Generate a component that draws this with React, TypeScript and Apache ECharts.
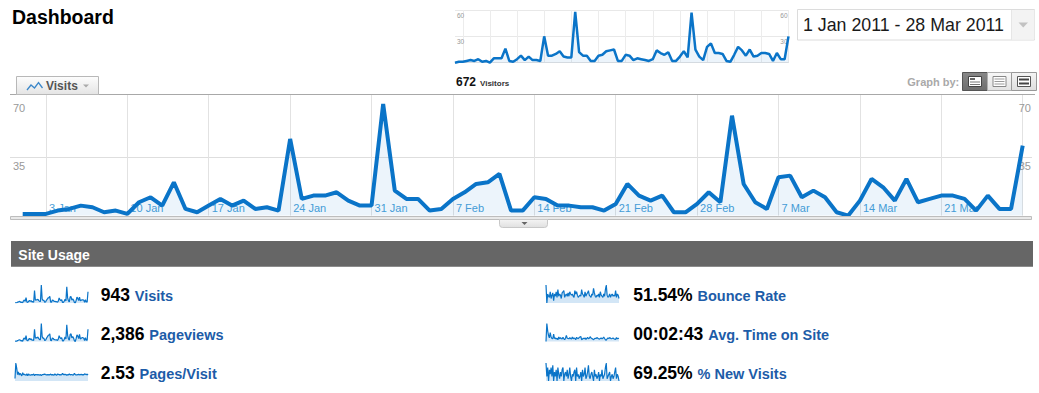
import React, { useEffect, useRef } from "react";
import * as echarts from "echarts";

const FONT = "Arial, 'Liberation Sans', Helvetica, sans-serif";

// ---- categories ----
const monthNames = ["Jan", "Feb", "Mar"];
const monthDays = [31, 28, 28];
const days: string[] = [];
monthNames.forEach((m, k) => {
  for (let d = 1; d <= monthDays[k]; d++) days.push(`${d} ${m}`);
});

// ---- data ----
const visits = [
  1, 1, 1, 3, 4, 6, 5, 2, 3, 1,
  8, 11, 6, 20, 4, 2, 6, 10, 6, 9,
  4, 5, 3, 46, 10, 12, 12, 14, 9, 6,
  6, 67, 15, 10, 10, 3, 4, 10, 14, 19,
  20, 25, 3, 3, 11, 10, 6, 6, 5, 5,
  3, 7, 19, 12, 9, 12, 2, 2, 7, 14,
  8, 60, 19, 8, 4, 23, 24, 11, 15, 11,
  2, 0, 9, 22, 17, 9, 22, 8, 10, 12,
  12, 10, 3, 12, 4, 4, 42,
];
const visitors = [
  0, 1, 1, 2, 3, 2, 4, 1, 2, 0,
  5, 5, 5, 16, 2, 1, 4, 8, 3, 7,
  3, 3, 2, 30, 8, 8, 10, 13, 7, 6,
  6, 58, 12, 8, 8, 2, 2, 8, 9, 13,
  14, 15, 2, 2, 9, 8, 3, 5, 4, 3,
  2, 4, 14, 11, 9, 12, 2, 2, 7, 13,
  6, 57, 15, 7, 3, 18, 22, 11, 11, 10,
  2, 1, 9, 18, 14, 8, 15, 7, 8, 11,
  11, 10, 2, 11, 4, 4, 30,
];
const pageviews = [
  2, 3, 2, 8, 10, 14, 12, 5, 7, 2,
  20, 28, 15, 45, 9, 5, 16, 24, 14, 22,
  10, 12, 8, 95, 25, 30, 28, 35, 22, 14,
  15, 140, 38, 25, 26, 8, 10, 24, 35, 46,
  50, 60, 8, 7, 28, 24, 15, 14, 12, 13,
  8, 18, 45, 30, 22, 30, 5, 5, 18, 35,
  20, 130, 48, 20, 10, 55, 60, 28, 38, 27,
  5, 0, 22, 52, 42, 22, 55, 20, 25, 30,
  30, 25, 8, 30, 10, 10, 95,
];
const pagesPerVisit = [
  1, 7, 5, 2.5, 3.5, 2.3, 3, 2.5, 2, 3.2,
  2.5, 2.6, 2.4, 2.2, 2.8, 2, 2.7, 2.4, 2.3, 2.4,
  2.5, 2.4, 2.7, 2.1, 2.5, 2.5, 2.3, 2.5, 2.4, 2.3,
  2.5, 2.1, 2.5, 2.5, 2.6, 2.7, 2.5, 2.4, 2.5, 2.4,
  2.5, 2.4, 2.7, 2.3, 2.5, 2.4, 2.3, 2.8, 2.4, 2.2,
  2.7, 2.6, 2.4, 2.5, 2.4, 2.5, 3, 2.5, 2.6, 2.5,
  2.6, 2.2, 2.5, 2.4, 2.8, 2.4, 2.5, 2.5, 2.3, 2.4,
  3, 2.5, 2.4, 2.4, 2.5, 2.6, 2.4, 2.5, 2.6, 2.4,
  2.5, 2.4, 2.8, 2.6, 2.4, 2.7, 2.3,
];
const bounceRate = [
  100, 20, 60, 50, 45, 70, 40, 55, 65, 30,
  60, 50, 70, 45, 80, 50, 60, 55, 40, 65,
  70, 75, 45, 55, 60, 50, 65, 50, 70, 60,
  55, 60, 50, 45, 75, 60, 70, 55, 45, 50,
  55, 50, 80, 60, 55, 45, 70, 50, 60, 65,
  75, 55, 50, 45, 60, 55, 85, 65, 50, 45,
  55, 50, 60, 45, 70, 55, 50, 45, 60, 50,
  80, 100, 55, 45, 50, 60, 45, 55, 60, 50,
  55, 50, 75, 45, 60, 55, 40,
];
const avgTime = [
  0, 600, 350, 200, 120, 300, 150, 100, 90, 250,
  100, 120, 80, 110, 60, 150, 90, 130, 100, 80,
  140, 90, 60, 120, 200, 110, 100, 90, 130, 100,
  80, 150, 90, 120, 100, 60, 140, 110, 95, 130,
  150, 170, 60, 80, 110, 90, 120, 70, 100, 140,
  90, 110, 160, 120, 100, 80, 60, 90, 110, 100,
  130, 110, 90, 80, 100, 120, 90, 110, 150, 100,
  60, 40, 90, 120, 100, 130, 110, 90, 100, 120,
  90, 80, 70, 130, 90, 110, 100,
];
const newVisits = [
  100, 70, 90, 60, 85, 75, 90, 70, 95, 60,
  80, 70, 85, 60, 90, 75, 65, 80, 70, 85,
  90, 60, 75, 80, 70, 85, 65, 75, 90, 70,
  60, 75, 70, 80, 85, 60, 90, 70, 75, 65,
  70, 80, 60, 85, 70, 75, 90, 65, 70, 80,
  95, 70, 65, 75, 80, 70, 60, 85, 70, 75,
  65, 70, 80, 60, 75, 70, 85, 65, 70, 75,
  90, 100, 65, 70, 75, 80, 60, 70, 75, 65,
  70, 80, 90, 65, 75, 70, 60,
];

const metricValues = ["943", "2,386", "2.53", "51.54%", "00:02:43", "69.25%"];
const metricLabels = ["Visits", "Pageviews", "Pages/Visit", "Bounce Rate", "Avg. Time on Site", "% New Visits"];
const metricSeries = [visits, pageviews, pagesPerVisit, bounceRate, avgTime, newVisits];
const metricFromMin = [false, false, false, true, false, true];

const mainTicks = { min: 0, max: 70, interval: 35 };
const miniTicks = { min: 0, max: 60, interval: 30 };
const dateRange = "1 Jan 2011 - 28 Mar 2011";
const visitorsTotal = "672";

const isMonday = (i: number) => i % 7 === 2;

export default function App() {
  const ref = useRef<HTMLDivElement>(null);
  useEffect(() => {
    if (!ref.current) return;
    const chart = echarts.init(ref.current, undefined, { renderer: "svg" });

    const mainTop = 99;
    const mainH = 116.6;
    const pxPerUnit = mainH / mainTicks.max;
    const topBorder = 95;
    const extMax = mainTicks.max + (mainTop - topBorder) / pxPerUnit;

    const sparkRows = [285, 323.5, 363];
    const sparkCols = [15, 546];
    const textCols = [100.7, 633.3];
    const textRows = [294.9, 334.2, 373.2];

    const grids: any[] = [
      { left: 10, width: 1022, top: mainTop, height: mainH },
      { left: 22.7, width: 1000, top: topBorder, height: mainTop + mainH - topBorder },
      { left: 455, width: 333.5, top: 10, height: 52.7 },
    ];
    const xAxes: any[] = [
      { gridIndex: 0, type: "value", show: false, min: 0, max: 1 },
      {
        gridIndex: 1,
        type: "category",
        data: days,
        boundaryGap: false,
        axisLine: { show: false },
        axisTick: { show: false },
        splitLine: { show: true, interval: (i: number) => isMonday(i), lineStyle: { color: "#e2e2e2", width: 1 } },
        axisLabel: {
          show: true,
          inside: true,
          interval: (i: number) => isMonday(i) && i < days.length - 1,
          align: "left",
          margin: 2,
          padding: [0, 0, 0, 3],
          color: "#4a9fd8",
          fontSize: 11,
          fontFamily: FONT,
        },
      },
      {
        gridIndex: 2,
        type: "category",
        data: days,
        boundaryGap: false,
        axisLine: { show: true, lineStyle: { color: "#e2e2e2" } },
        axisTick: { show: false },
        axisLabel: { show: false },
        splitLine: { show: true, interval: (i: number) => isMonday(i), lineStyle: { color: "#ececec", width: 1 } },
      },
    ];
    const yLabel = (margin: number, size: number, pad: number) => ({
      inside: true,
      margin,
      verticalAlign: "top",
      padding: [pad, 0, 0, 0],
      color: "#999",
      fontSize: size,
      fontFamily: FONT,
      formatter: (v: number) => (v === 0 ? "" : String(v)),
    });
    const yAxes: any[] = [
      {
        gridIndex: 0, type: "value", position: "left", ...mainTicks,
        axisLine: { show: false }, axisTick: { show: false },
        splitLine: { show: true, lineStyle: { color: ["transparent", "#dedede", "transparent"], width: 1 } },
        axisLabel: yLabel(3, 11, 3),
      },
      {
        gridIndex: 0, type: "value", position: "right", ...mainTicks,
        axisLine: { show: false }, axisTick: { show: false }, splitLine: { show: false },
        axisLabel: yLabel(1, 11, 3),
      },
      { gridIndex: 1, type: "value", show: false, min: 0, max: extMax, splitLine: { show: false } },
      {
        gridIndex: 2, type: "value", position: "left", ...miniTicks,
        axisLine: { show: false }, axisTick: { show: false },
        splitLine: { show: true, lineStyle: { color: ["transparent", "#e8e8e8", "#e8e8e8"], width: 1 } },
        axisLabel: yLabel(2, 6.5, 2),
      },
      {
        gridIndex: 2, type: "value", position: "right", ...miniTicks,
        axisLine: { show: false }, axisTick: { show: false }, splitLine: { show: false },
        axisLabel: yLabel(1, 6.5, 2),
      },
    ];
    const series: any[] = [
      {
        type: "line", xAxisIndex: 1, yAxisIndex: 2, data: visits, symbol: "none", silent: true, z: 3,
        lineStyle: { color: "#0a74c8", width: 4, join: "bevel" },
        areaStyle: { color: "rgba(10,116,200,0.11)" },
      },
      {
        type: "line", xAxisIndex: 2, yAxisIndex: 3, data: visitors, symbol: "none", silent: true, z: 3,
        lineStyle: { color: "#0a74c8", width: 2.5, join: "bevel" },
        areaStyle: { color: "rgba(10,116,200,0.11)" },
      },
    ];

    metricSeries.forEach((arr, k) => {
      const col = k < 3 ? 0 : 1;
      const row = k % 3;
      const gi = grids.length;
      grids.push({ left: sparkCols[col], width: 73, top: sparkRows[row], height: 18 });
      const xi = xAxes.length;
      xAxes.push({ gridIndex: gi, type: "category", data: days, boundaryGap: false, show: false });
      const yi = yAxes.length;
      yAxes.push({ gridIndex: gi, type: "value", show: false, min: metricFromMin[k] ? "dataMin" : 0, max: "dataMax", splitLine: { show: false } });
      series.push({
        type: "line", xAxisIndex: xi, yAxisIndex: yi, data: arr, symbol: "none", silent: true,
        lineStyle: { color: "#0a74c8", width: 1.2 },
        areaStyle: { color: "#d3e6f6", opacity: 1 },
      });
    });

    const grad = (a: string, b: string) =>
      new echarts.graphic.LinearGradient(0, 0, 0, 1, [
        { offset: 0, color: a },
        { offset: 1, color: b },
      ]);
    const txt = (x: number, y: number, text: string, font: string, fill: string, extra: any = {}) => ({
      type: "text", x, y, ...extra,
      style: { text, font, fill, textVerticalAlign: "middle", verticalAlign: "middle" },
    });

    const elements: any[] = [
      txt(12, 16.7, "Dashboard", `bold 19.5px ${FONT}`, "#000"),
      { type: "rect", shape: { x: 797.5, y: 9.5, width: 237, height: 30.5 }, style: { fill: "#fff", stroke: "#dcdcdc", lineWidth: 1 } },
      { type: "rect", shape: { x: 1012, y: 10, width: 22.5, height: 29.5 }, style: { fill: "#f3f3f3" } },
      { type: "line", shape: { x1: 1011.5, y1: 10, x2: 1011.5, y2: 40 }, style: { stroke: "#e6e6e6", lineWidth: 1 } },
      { type: "polygon", shape: { points: [[1018.5, 22.5], [1028, 22.5], [1023.25, 27.5]] }, style: { fill: "#c2c2c2" } },
      txt(803, 25, dateRange, `17.8px ${FONT}`, "#1a1a1a"),
      txt(456, 81.8, visitorsTotal, `bold 12px ${FONT}`, "#111"),
      txt(480, 83, "Visitors", `bold 8px ${FONT}`, "#333"),
      { type: "line", shape: { x1: 10, y1: 94.5, x2: 1035, y2: 94.5 }, style: { stroke: "#a8a8a8", lineWidth: 1 } },
      { type: "rect", shape: { x: 16.5, y: 76.5, width: 82, height: 18 }, style: { fill: grad("#fdfdfd", "#e4e4e4"), stroke: "#b8b8b8", lineWidth: 1 } },
      { type: "polyline", shape: { points: [[27, 90], [31, 85], [34.5, 88], [38.5, 82.5], [42.5, 88]] }, style: { stroke: "#3b87c9", lineWidth: 1.3, fill: "none" } },
      txt(46, 85.8, "Visits", `bold 12px ${FONT}`, "#555"),
      { type: "polygon", shape: { points: [[83, 84.5], [89, 84.5], [86, 87.5]] }, style: { fill: "#aaa" } },
      txt(907.3, 82, "Graph by:", `bold 11px ${FONT}`, "#a9a9a9"),
      { type: "rect", shape: { x: 962.5, y: 72.5, width: 25, height: 18 }, style: { fill: grad("#888", "#6e6e6e"), stroke: "#555", lineWidth: 1 } },
      { type: "rect", shape: { x: 987.5, y: 72.5, width: 24, height: 18 }, style: { fill: grad("#f8f8f8", "#e2e2e2"), stroke: "#b0b0b0", lineWidth: 1 } },
      { type: "rect", shape: { x: 1011.5, y: 72.5, width: 25, height: 18 }, style: { fill: grad("#f4f4f4", "#dedede"), stroke: "#999", lineWidth: 1 } },
      { type: "rect", shape: { x: 968.5, y: 76.5, width: 13, height: 10 }, style: { fill: "#fff", stroke: "#444", lineWidth: 1 } },
      { type: "line", shape: { x1: 970, y1: 79, x2: 975, y2: 79 }, style: { stroke: "#333", lineWidth: 1.5 } },
      { type: "line", shape: { x1: 970, y1: 82, x2: 980, y2: 82 }, style: { stroke: "#777", lineWidth: 1 } },
      { type: "line", shape: { x1: 970, y1: 84.5, x2: 980, y2: 84.5 }, style: { stroke: "#777", lineWidth: 1 } },
      { type: "rect", shape: { x: 993, y: 76.5, width: 13, height: 10 }, style: { fill: "#fff", stroke: "#888", lineWidth: 1 } },
      { type: "line", shape: { x1: 994.5, y1: 79, x2: 1004.5, y2: 79 }, style: { stroke: "#999", lineWidth: 1 } },
      { type: "line", shape: { x1: 994.5, y1: 81.5, x2: 1004.5, y2: 81.5 }, style: { stroke: "#999", lineWidth: 1 } },
      { type: "line", shape: { x1: 994.5, y1: 84, x2: 1004.5, y2: 84 }, style: { stroke: "#999", lineWidth: 1 } },
      { type: "rect", shape: { x: 1017.5, y: 76.5, width: 13, height: 10 }, style: { fill: "#fff", stroke: "#555", lineWidth: 1 } },
      { type: "line", shape: { x1: 1019, y1: 79.5, x2: 1029, y2: 79.5 }, style: { stroke: "#444", lineWidth: 2 } },
      { type: "line", shape: { x1: 1019, y1: 83.5, x2: 1029, y2: 83.5 }, style: { stroke: "#444", lineWidth: 2 } },
      { type: "rect", z: 10, shape: { x: 10.5, y: 216.5, width: 1021, height: 3 }, style: { fill: "#e9e9e9", stroke: "#bdbdbd", lineWidth: 1 } },
      { type: "rect", z: 10, shape: { x: 499.5, y: 219.5, width: 48, height: 8, r: [0, 0, 3, 3] }, style: { fill: grad("#f4f4f4", "#e0e0e0"), stroke: "#c8c8c8", lineWidth: 1 } },
      { type: "polygon", z: 11, shape: { points: [[521.5, 222], [527.5, 222], [524.5, 225]] }, style: { fill: "#666" } },
      { type: "rect", shape: { x: 11, y: 241, width: 1022, height: 25.7 }, style: { fill: "#666666" } },
      txt(18.3, 254.5, "Site Usage", `bold 14px ${FONT}`, "#fff"),
    ];

    metricValues.forEach((v, k) => {
      const col = k < 3 ? 0 : 1;
      const row = k % 3;
      elements.push({
        type: "text",
        x: textCols[col],
        y: textRows[row],
        style: {
          text: `{v|${v} }{l|${metricLabels[k]}}`,
          font: `bold 17.5px ${FONT}`,
          textVerticalAlign: "middle",
          verticalAlign: "middle",
          rich: {
            v: { font: `bold 17.5px ${FONT}`, fontSize: 17.5, fontWeight: "bold", fontFamily: FONT, fill: "#000", color: "#000", lineHeight: 17.5, verticalAlign: "bottom" },
            l: { font: `bold 14.5px ${FONT}`, fontSize: 14.5, fontWeight: "bold", fontFamily: FONT, fill: "#1d5ca8", color: "#1d5ca8", lineHeight: 14.5, verticalAlign: "bottom" },
          },
        },
      });
    });

    chart.setOption({
      animation: false,
      textStyle: { fontFamily: FONT },
      grid: grids,
      xAxis: xAxes,
      yAxis: yAxes,
      series,
      graphic: { elements },
    });
    return () => chart.dispose();
  }, []);

  return (
    <div
      ref={ref}
      style={{ position: "absolute", left: 0, top: 0, width: 1039, height: 393, background: "#fff" }}
    />
  );
}
